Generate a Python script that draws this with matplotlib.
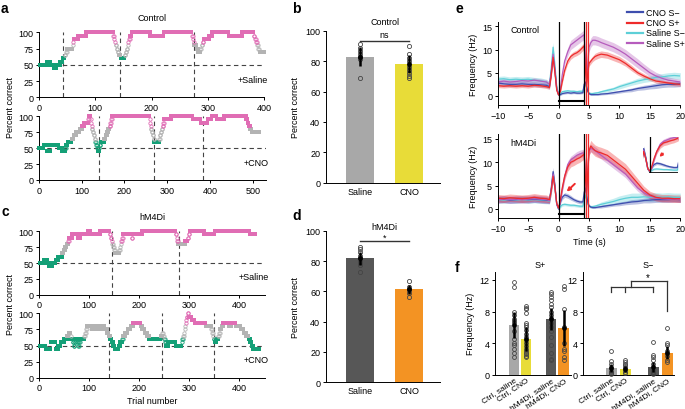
import numpy as np
import matplotlib
matplotlib.use('Agg')
import matplotlib.pyplot as plt
from matplotlib.lines import Line2D

plt.rcParams['font.family'] = ['Liberation Sans', 'DejaVu Sans']
plt.rcParams['font.size'] = 6.5

# ================= DATA =================
# a / c : sliding percent correct, stored as runs (value, number of trials)
a_sal_vals = [50,55,50,45,50,55,60,65,70,75,80,85,90,95,100,95,90,85,80,75,70,65,60,65,70,75,80,85,90,95,100,95,100,95,90,85,80,75,70,75,80,85,90,95,100,95,100,95,90,85,80,75,70]
a_sal_lens = [14,5,6,6,6,4,4,2,2,10,1,1,8,14,48,2,1,1,2,2,2,3,7,2,2,2,1,1,2,3,33,24,50,2,1,1,4,3,4,2,2,2,10,5,29,24,21,2,2,2,2,2,9]
a_sal_switch = [43, 144, 276]

a_cno_vals = [50,55,45,55,50,45,50,55,60,65,70,75,80,85,90,95,100,95,90,85,80,75,70,65,60,55,50,45,50,55,60,65,70,75,80,85,90,95,100,95,90,85,80,75,70,65,60,65,70,75,80,85,90,95,100,95,90,95,100,95,100,95,90,85,80,75]
a_cno_lens = [10,8,8,19,8,8,2,3,10,4,6,8,6,5,9,2,4,1,1,1,2,2,2,2,2,2,2,3,1,2,9,3,3,3,3,2,2,2,88,1,1,1,2,2,2,2,11,2,2,2,2,2,2,17,50,18,17,9,12,17,52,3,3,3,4,18]
a_cno_switch = [140, 268, 383]

c_sal_vals = [50,55,50,45,50,55,60,65,70,75,80,85,90,95,90,95,100,95,100,95,90,85,80,75,70,65,70,75,80,85,90,95,90,95,100,95,90,85,80,85,90,95,100,95,100,95]
c_sal_lens = [9,6,4,6,7,5,8,3,3,3,3,2,6,12,5,15,5,19,19,2,2,1,2,2,2,8,2,1,1,2,2,17,2,19,67,2,1,2,14,5,2,2,29,21,70,12]
c_sal_switch = [145, 279]

c_cno_vals = [50,45,55,45,50,55,60,65,70,65,60,55,50,55,60,55,50,55,60,65,70,75,80,75,80,75,80,75,70,65,60,55,50,45,50,55,60,65,70,75,80,85,80,75,70,65,60,65,70,65,60,55,50,55,50,55,60,65,70,75,80,85,90,95,100,95,90,85,80,75,70,65,60,55,60,65,70,75,80,85,80,85,80,75,70,65,60,55,50,45]
c_cno_lens = [12,10,10,5,5,7,6,3,4,1,3,2,2,2,3,2,2,2,8,2,2,2,10,7,5,5,7,6,3,3,3,3,3,8,3,4,2,4,5,6,5,15,3,5,5,4,23,3,2,2,2,2,4,15,12,1,2,2,1,1,1,1,1,2,2,6,6,22,11,2,2,1,2,3,4,2,2,3,3,12,4,9,10,6,5,5,3,3,3,13]
c_cno_switch = [139, 245, 349]

# b / d : percent correct
bd_groups = ['Saline', 'CNO']
b_means = [83, 78]
b_errs = [6, 6]
b_pts_sal = [91.4, 88.8, 86.6, 84.4, 82.9, 81.1, 68.6]
b_pts_cno = [90, 85, 82, 80, 76, 74, 72, 70, 69]
d_means = [81.7, 61.4]
d_errs = [4.5, 3]
d_pts_sal = [89.4, 87.9, 85.7, 83.5, 81.3, 79.2, 77.6, 73]
d_pts_cno = [66.8, 62.7, 61.1, 58.7, 56.5]

# e : firing rate time courses (Hz)
e_time = [-10,-9,-8,-7,-6,-5,-4,-3,-2,-1.5,-1.2,-0.9,-0.6,-0.3,0,0.3,0.6,1,1.5,2,2.5,3,3.5,4,4.2,4.4,4.6,4.8,5,5.3,5.6,6,6.5,7,8,9,10,11,12,13,14,15,16,17,18,19,20]
# Control
ctl_cno_sminus = [2.8,2.6,2.5,2.5,2.6,2.5,2.5,2.4,2.3,2.0,5.0,8.5,5.5,1.5,0.2,0.3,0.5,0.6,0.7,0.6,0.7,0.6,0.6,0.7,2.5,3.0,2.0,1.0,0.5,0.3,0.3,0.3,0.3,0.4,0.5,0.7,0.9,1.1,1.3,1.6,1.8,2.0,2.2,2.4,2.5,2.5,2.6]
ctl_cno_splus = [2.2,2.1,2.2,2.1,2.2,2.1,2.3,2.2,2.0,1.8,4.5,8.3,5.0,1.2,0.2,1.0,3.0,5.5,7.5,8.5,9.0,9.3,9.8,10.5,10.8,6.0,2.0,5.0,7.0,7.5,8.0,8.5,8.8,9.0,8.8,8.3,7.8,7.0,6.0,5.0,4.3,3.7,3.2,3.0,2.8,2.6,2.5]
ctl_sal_sminus = [3.6,3.7,3.5,3.6,3.5,3.6,3.4,3.3,3.0,2.5,6.0,10.5,6.5,2.0,0.3,0.5,0.9,1.0,1.1,1.0,1.0,0.9,1.0,1.0,2.0,2.5,1.8,1.0,0.6,0.5,0.5,0.6,0.7,0.9,1.2,1.5,2.0,2.4,2.8,3.2,3.5,3.7,4.0,4.1,4.3,4.4,4.3]
ctl_sal_splus = [3.0,3.2,3.0,3.1,3.3,3.2,3.4,3.2,3.0,2.5,5.0,9.0,5.5,1.5,0.3,1.5,4.5,7.5,9.5,11.0,11.5,12.0,12.5,13.0,13.2,8.0,3.0,7.0,10.5,11.5,12.0,12.0,11.8,11.5,11.0,10.5,9.8,9.0,8.0,7.0,6.0,5.0,4.3,3.8,3.4,3.2,3.0]
ctl_cno_sminus_sem = [0.5,0.5,0.5,0.5,0.5,0.5,0.5,0.5,0.5,0.4,0.6,0.8,0.6,0.3,0.2,0.2,0.2,0.2,0.2,0.2,0.2,0.2,0.2,0.2,0.3,0.4,0.3,0.2,0.2,0.2,0.2,0.2,0.2,0.2,0.2,0.3,0.3,0.3,0.4,0.4,0.5,0.5,0.6,0.6,0.6,0.6,0.6]
ctl_cno_splus_sem = [0.4,0.4,0.4,0.4,0.4,0.4,0.4,0.4,0.4,0.4,0.6,0.8,0.6,0.3,0.2,0.3,0.4,0.5,0.6,0.6,0.6,0.6,0.7,0.7,0.7,0.7,0.5,0.6,0.6,0.6,0.6,0.7,0.7,0.7,0.7,0.7,0.7,0.6,0.6,0.5,0.5,0.4,0.4,0.4,0.4,0.4,0.4]
ctl_sal_sminus_sem = [0.6,0.6,0.6,0.6,0.6,0.6,0.6,0.6,0.6,0.5,0.8,1.0,0.8,0.3,0.2,0.3,0.3,0.3,0.3,0.3,0.3,0.3,0.3,0.3,0.4,0.5,0.4,0.3,0.3,0.3,0.3,0.3,0.3,0.3,0.4,0.4,0.5,0.5,0.5,0.6,0.6,0.6,0.7,0.7,0.7,0.7,0.7]
ctl_sal_splus_sem = [0.5,0.5,0.5,0.5,0.5,0.5,0.5,0.5,0.5,0.5,0.7,0.9,0.7,0.3,0.2,0.4,0.6,0.8,0.9,1.0,1.0,1.0,1.0,1.0,1.0,0.8,0.6,0.8,1.0,1.0,1.0,1.0,1.0,1.0,1.0,1.0,1.0,1.0,1.0,1.0,0.9,0.9,0.8,0.7,0.7,0.6,0.6]
# hM4Di
hm_cno_sminus = [2.0,2.1,1.9,2.0,2.1,2.0,2.1,2.0,1.9,1.8,4.5,8.0,5.0,1.0,0.0,1.5,2.5,3.0,2.8,2.4,2.0,1.7,1.5,1.5,3.5,4.5,3.0,1.5,0.7,0.4,0.3,0.3,0.4,0.5,0.7,0.9,1.1,1.3,1.5,1.6,1.8,1.9,2.0,2.0,2.0,2.1,2.0]
hm_cno_splus = [2.3,2.2,2.4,2.3,2.2,2.3,2.5,2.3,2.2,2.0,4.0,7.0,4.5,1.2,0.2,2.0,4.5,7.0,9.0,10.0,10.3,10.7,11.0,11.5,11.8,7.0,3.0,8.0,12.5,13.5,13.0,12.5,12.2,12.0,11.5,10.5,9.5,8.5,7.0,5.5,4.0,3.0,2.5,2.3,2.3,2.2,2.2]
hm_sal_sminus = [2.0,1.9,2.0,1.9,2.0,1.9,2.0,1.9,1.8,1.7,4.0,7.5,4.5,1.0,0.0,0.5,0.9,1.0,0.9,0.8,0.8,0.7,0.6,0.6,2.0,3.0,2.0,1.0,0.6,0.5,0.5,0.6,0.8,1.0,1.3,1.6,2.0,2.3,2.5,2.5,2.6,2.5,2.6,2.5,2.6,2.5,2.5]
hm_sal_splus = [2.0,2.1,2.0,2.1,2.0,2.1,2.2,2.1,2.0,1.8,4.0,7.5,4.5,1.0,0.1,1.5,4.0,7.0,9.5,10.5,11.0,11.5,11.8,12.0,12.0,7.0,3.0,8.0,12.5,13.0,12.8,12.5,12.0,11.5,10.5,9.5,8.5,7.5,6.0,4.5,3.5,2.8,2.4,2.2,2.1,2.1,2.0]
hm_cno_sminus_sem = [0.7,0.7,0.7,0.7,0.7,0.7,0.7,0.7,0.7,0.6,0.7,0.9,0.7,0.3,0.2,0.4,0.5,0.5,0.5,0.5,0.4,0.4,0.4,0.4,0.5,0.6,0.5,0.4,0.3,0.2,0.2,0.2,0.2,0.3,0.3,0.3,0.4,0.4,0.5,0.5,0.5,0.6,0.6,0.6,0.6,0.6,0.6]
hm_cno_splus_sem = [0.8,0.8,0.8,0.8,0.8,0.8,0.8,0.8,0.8,0.7,0.8,0.9,0.7,0.3,0.2,0.5,0.7,0.8,0.9,1.0,1.0,1.0,1.0,1.0,1.0,0.9,0.6,0.9,1.1,1.2,1.2,1.2,1.2,1.2,1.2,1.2,1.2,1.2,1.1,1.0,0.9,0.8,0.8,0.8,0.8,0.8,0.8]
hm_sal_sminus_sem = [0.7,0.7,0.7,0.7,0.7,0.7,0.7,0.7,0.7,0.6,0.7,0.9,0.7,0.3,0.2,0.3,0.3,0.3,0.3,0.3,0.3,0.3,0.3,0.3,0.4,0.5,0.4,0.3,0.3,0.3,0.3,0.3,0.4,0.5,0.6,0.7,0.8,0.8,0.9,0.9,0.9,0.9,0.9,0.9,0.9,0.9,0.9]
hm_sal_splus_sem = [0.8,0.8,0.8,0.8,0.8,0.8,0.8,0.8,0.8,0.7,0.8,0.9,0.7,0.3,0.2,0.4,0.6,0.7,0.8,0.8,0.8,0.8,0.8,0.8,0.8,0.7,0.5,0.7,0.8,0.8,0.8,0.8,0.8,0.8,0.8,0.8,0.8,0.8,0.8,0.7,0.7,0.6,0.6,0.6,0.6,0.6,0.6]

e_labels = ['CNO S\u2212', 'CNO S+', 'Saline S\u2212', 'Saline S+']

# f : mean frequency (Hz)
f_groups = ['Ctrl, saline', 'Ctrl, CNO', 'hM4Di, saline', 'hM4Di, CNO']
f_splus_means = [6.3, 4.5, 7.0, 5.9]
f_splus_errs = [1.6, 1.5, 1.4, 2.3]
f_splus_pts = [
    [11.7, 11.1, 8.0, 7.5, 7.0, 6.8, 6.5, 5.5, 4.5, 4.0, 3.7, 3.2, 2.8, 2.3],
    [8.7, 8.5, 8.3, 7.8, 6.5, 6.3, 6.0, 5.6, 5.2, 4.8, 4.4, 4.0, 3.6, 3.3, 3.0, 2.8, 2.6, 2.4, 2.2],
    [10.5, 10.2, 9.8, 9.5, 9.0, 8.6, 8.0, 7.6, 7.2, 7.0, 6.5, 6.0, 5.5, 4.8, 3.8, 2.7, 2.0, 1.9],
    [11.2, 10.8, 8.3, 6.0, 4.0, 3.2, 3.0, 2.2, 1.8],
]
f_sminus_means = [0.9, 0.75, 1.0, 2.8]
f_sminus_errs = [0.5, 0.4, 0.6, 0.8]
f_sminus_pts = [
    [3.0, 1.7, 1.3, 1.0, 0.8, 0.5, 0.3, 0.2, 0.1],
    [1.8, 1.6, 1.4, 1.2, 1.0, 0.8, 0.6, 0.4, 0.2],
    [4.1, 2.5, 2.2, 1.8, 1.4, 1.0, 0.6, 0.4, 0.2, 0.1],
    [5.9, 4.0, 3.7, 3.0, 2.7, 2.4, 1.9, 1.6],
]

# ================= STYLE =================
PINK = '#e06db4'
GREEN = '#14a077'
GRAY = '#b3b3b3'
BAR_COLS = ['#a8a8a8', '#e8dc38', '#575757', '#f39323']
C_BLUE, C_RED, C_CYAN, C_PURP = '#3e4eae', '#ee2b2b', '#5dcfd7', '#b65cbd'

W, H = 685, 410
fig = plt.figure(figsize=(W / 100, H / 100), dpi=100)


def add_ax(l, t, r, b):
    return fig.add_axes([l / W, 1 - b / H, (r - l) / W, (b - t) / H])


def style(ax):
    for s in ('top', 'right'):
        ax.spines[s].set_visible(False)
    for s in ('left', 'bottom'):
        ax.spines[s].set_linewidth(0.7)
    ax.tick_params(length=2.5, width=0.7, pad=1.5, labelsize=6.5)


def ftext(x, y, s, **kw):
    fig.text(x / W, 1 - y / H, s, **kw)


def trace_panel(ax, vals, lens, switches, xmax, xticks, cond):
    style(ax)
    v = np.repeat(vals, lens)
    rl = np.repeat(lens, lens)
    tr = np.arange(1, len(v) + 1)
    ax.axhline(50, color='#444444', lw=0.8, ls=(0, (4, 3)), zorder=1)
    for s in switches:
        ax.axvline(s, color='#444444', lw=0.8, ls=(0, (4, 3)), zorder=1)
    cls = np.where(v <= 60, 0, np.where(v >= 85, 2, 1))
    for k, c in enumerate((GREEN, GRAY, PINK)):
        m = cls == k
        f = m & (rl > 2)
        o = m & (rl <= 2)
        ax.plot(tr[f], v[f], 's', ms=2.3, color=c, mew=0, clip_on=False, zorder=3)
        ax.plot(tr[o], v[o], 'o', ms=2.4, mfc='none', mec=c, mew=0.6, clip_on=False, zorder=3)
    ax.set_xlim(0, xmax)
    ax.set_ylim(0, 100)
    ax.set_yticks([0, 25, 50, 75, 100])
    ax.set_xticks(xticks)
    ax.text(1.015, 0.28, cond, transform=ax.transAxes, ha='right', va='center', fontsize=6.5)


# ---------- panel a ----------
ax = add_ax(39, 33.3, 264, 98.3)
trace_panel(ax, a_sal_vals, a_sal_lens, a_sal_switch, 400, [0, 100, 200, 300, 400], '+Saline')
ax = add_ax(39, 117.3, 265.5, 181)
trace_panel(ax, a_cno_vals, a_cno_lens, a_cno_switch, 530, [0, 100, 200, 300, 400, 500], '+CNO')
ftext(152, 18.5, 'Control', ha='center', va='center', fontsize=6.5)
ftext(11, 107, 'Percent correct', rotation=90, ha='center', va='center', fontsize=6.5)

# ---------- panel c ----------
ax = add_ax(39, 232.3, 265, 295.7)
trace_panel(ax, c_sal_vals, c_sal_lens, c_sal_switch, 452, [0, 100, 200, 300, 400], '+Saline')
ax = add_ax(39, 314.3, 265, 378.7)
trace_panel(ax, c_cno_vals, c_cno_lens, c_cno_switch, 452, [0, 100, 200, 300, 400], '+CNO')
ax.set_xlabel('Trial number', fontsize=6.5, labelpad=3)
ftext(152, 217.5, 'hM4Di', ha='center', va='center', fontsize=6.5)
ftext(11, 305, 'Percent correct', rotation=90, ha='center', va='center', fontsize=6.5)


# ---------- panels b, d ----------
def bar_panel(ax, means, errs, pts, cols, title, sig_y, sig_txt, title_y, txt_y):
    style(ax)
    x = np.arange(len(means))
    ax.bar(x, means, width=0.57, color=cols, zorder=1)
    for xi, p in zip(x, pts):
        ax.plot(np.full(len(p), xi), p, 'o', ms=3, mfc='none', mec='#444444', mew=0.6, zorder=3, clip_on=False)
    ax.errorbar(x, means, yerr=errs, fmt='o', ms=2.5, color='black', elinewidth=1.8, capsize=0, zorder=4)
    ax.set_xlim(-0.7, 1.63)
    ax.set_ylim(0, 100)
    ax.set_yticks([0, 20, 40, 60, 80, 100])
    ax.set_xticks(x)
    ax.set_xticklabels(bd_groups)
    ax.tick_params(axis='x', length=0, pad=3)
    ax.plot([0, 1], [sig_y, sig_y], color='#333333', lw=1.0, clip_on=False)
    ax.text(0.5, txt_y, sig_txt, ha='center', va='center', fontsize=6.5)
    ax.text(0.5, title_y, title, ha='center', va='center', fontsize=6.5, clip_on=False)
    ax.set_ylabel('Percent correct', fontsize=6.5, labelpad=4)


ax = add_ax(325.7, 31.7, 440, 183.7)
bar_panel(ax, b_means, b_errs, [b_pts_sal, b_pts_cno], BAR_COLS[:2], 'Control', 93.4, 'ns', 106, 97.5)
ax = add_ax(325.7, 231.7, 440, 383.3)
bar_panel(ax, d_means, d_errs, [d_pts_sal, d_pts_cno], BAR_COLS[2:], 'hM4Di', 93, '*', 102.5, 95.5)


# ---------- panel e ----------
def e_panel(ax, series, sems, title):
    style(ax)
    t = np.array(e_time)
    order = [(2, C_CYAN), (0, C_BLUE), (3, C_PURP), (1, C_RED)]
    for i, c in order:
        v = np.array(series[i]); s = np.array(sems[i])
        ax.fill_between(t, v - s, v + s, color=c, alpha=0.35, lw=0, zorder=1)
    for i, c in order:
        ax.plot(t, series[i], color=c, lw=0.9, zorder=2)
    ax.axvline(0, color='black', lw=0.9, zorder=3)
    ax.axvline(4.15, color='black', lw=0.9, zorder=3)
    ax.axvline(4.5, color=C_RED, lw=0.9, zorder=3)
    ax.axvline(4.85, color=C_RED, lw=0.9, zorder=3)
    ax.plot([0, 4.15], [-1.1, -1.1], color='black', lw=1.5, zorder=3)
    ax.set_xlim(-10, 20)
    ax.set_ylim(-2, 16)
    ax.set_xticks([-10, -5, 0, 5, 10, 15, 20])
    ax.set_yticks([0, 5, 10, 15])
    ax.set_ylabel('Frequency (Hz)', fontsize=6.5, labelpad=3)
    ax.text(-7.9, 14.3, title, ha='left', va='center', fontsize=6.5)


ax_e1 = add_ax(497.7, 22.7, 680.3, 106.2)
e_panel(ax_e1, [ctl_cno_sminus, ctl_cno_splus, ctl_sal_sminus, ctl_sal_splus],
        [ctl_cno_sminus_sem, ctl_cno_splus_sem, ctl_sal_sminus_sem, ctl_sal_splus_sem], 'Control')
ax_e1.set_xticklabels(['\u221210', '\u22125', '0', '5', '10', '15', '20'])

ax_e2 = add_ax(497.7, 135.3, 680.3, 219.3)
hm_series = [hm_cno_sminus, hm_cno_splus, hm_sal_sminus, hm_sal_splus]
hm_sems = [hm_cno_sminus_sem, hm_cno_splus_sem, hm_sal_sminus_sem, hm_sal_splus_sem]
e_panel(ax_e2, hm_series, hm_sems, 'hM4Di')
ax_e2.set_xticklabels(['\u221210', '\u22125', '0', '5', '10', '15', '20'])
ax_e2.set_xlabel('Time (s)', fontsize=6.5, labelpad=3)
ax_e2.annotate('', xy=(1.0, 3.3), xytext=(3.0, 5.8),
               arrowprops=dict(arrowstyle='-|>', color=C_RED, lw=1.4, mutation_scale=5), zorder=5)

# inset
axi = add_ax(643, 138, 678, 174)
axi.axis('off')
t = np.array(e_time)
for i, c in [(2, C_CYAN), (0, C_BLUE), (3, C_PURP), (1, C_RED)]:
    v = np.array(hm_series[i]); s = np.array(hm_sems[i])
    axi.fill_between(t, v - s, v + s, color=c, alpha=0.35, lw=0)
for i, c in [(2, C_CYAN), (0, C_BLUE), (3, C_PURP), (1, C_RED)]:
    axi.plot(t, hm_series[i], color=c, lw=0.9)
axi.set_xlim(-1.0, 4.1)
axi.set_ylim(-0.4, 12)
axi.plot([0, 0], [-0.4, 12], color='black', lw=0.9)
axi.plot([0, 4.1], [-0.4, -0.4], color='black', lw=1.2)
axi.annotate('', xy=(1.1, 4.5), xytext=(2.2, 7.0),
             arrowprops=dict(arrowstyle='-|>', color=C_RED, lw=1.2, mutation_scale=4))

# legend for e
for k, (lab, c) in enumerate(zip(e_labels, [C_BLUE, C_RED, C_CYAN, C_PURP])):
    y = 13.3 + k * 10.3
    fig.add_artist(Line2D([627 / W, 643 / W], [1 - y / H, 1 - y / H], color=c, lw=1.6))
    ftext(646, y, lab, ha='left', va='center', fontsize=6.5)


# ---------- panel f ----------
def f_panel(ax, means, errs, pts, xlim, title, title_x):
    style(ax)
    x = np.array([0, 1, 3, 4])
    ax.bar(x, means, width=0.82, color=BAR_COLS, zorder=1)
    for xi, p in zip(x, pts):
        ax.plot(np.full(len(p), xi), p, 'o', ms=2.8, mfc='none', mec='#444444', mew=0.6, zorder=3, clip_on=False)
    ax.errorbar(x, means, yerr=errs, fmt='o', ms=2.3, color='black', elinewidth=1.8, capsize=0, zorder=4)
    ax.set_xlim(*xlim)
    ax.set_ylim(0, 13)
    ax.set_yticks([0, 4, 8, 12])
    ax.set_xticks(x)
    ax.set_xticklabels(f_groups, rotation=34, ha='right', rotation_mode='anchor', fontsize=6)
    ax.tick_params(axis='x', length=0, pad=1)
    ax.text(title_x, 14.0, title, ha='center', va='center', fontsize=6.5, clip_on=False)


ax_f1 = add_ax(495, 273, 571, 375.7)
f_panel(ax_f1, f_splus_means, f_splus_errs, f_splus_pts, (-1.5, 4.6), 'S+', 2.1)
ax_f1.set_ylabel('Frequency (Hz)', fontsize=6.5, labelpad=3)
ax_f2 = add_ax(583.3, 273, 673.6, 375.7)
f_panel(ax_f2, f_sminus_means, f_sminus_errs, f_sminus_pts, (-2.0, 4.45), 'S\u2212', 2.6)
# significance bracket
kb = dict(color='#333333', lw=0.9, clip_on=False)
ax_f2.plot([0, 3], [11.07, 11.07], **kb)
for xx in (0, 1, 3):
    ax_f2.plot([xx, xx], [11.07, 10.5], **kb)
ax_f2.plot([1.43, 1.43], [11.07, 11.9], **kb)
ax_f2.plot([1.43, 4], [11.9, 11.9], **kb)
ax_f2.plot([4, 4], [11.9, 8.1], **kb)
ax_f2.text(2.6, 12.4, '*', ha='center', va='center', fontsize=7)

# ---------- panel letters ----------
for s, x, y in [('a', 1, 2), ('b', 292, 2), ('c', 1, 205), ('d', 292, 209), ('e', 455, 2), ('f', 455, 261)]:
    ftext(x, y, s, ha='left', va='top', fontsize=10, fontweight='bold')

fig.savefig('out.png', dpi=100)
